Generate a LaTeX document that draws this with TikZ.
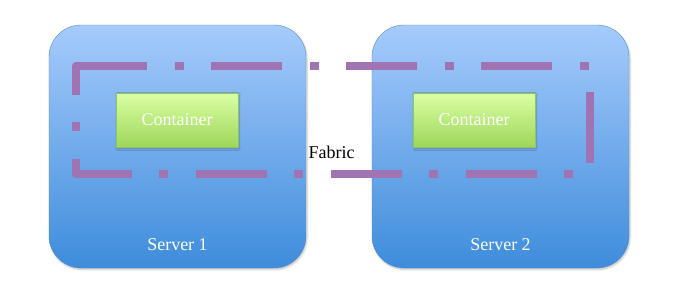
\documentclass[tikz,border=0pt]{standalone}
\usepackage{fontspec}
\setmainfont{Liberation Serif}
\usetikzlibrary{positioning,shadows.blur}
\definecolor{SrvTop}{HTML}{A6CBFC}
\definecolor{SrvBot}{HTML}{3E8CDB}
\definecolor{SrvLine}{HTML}{5A8FCB}
\definecolor{BoxTop}{HTML}{DAFFA4}
\definecolor{BoxBot}{HTML}{9ED65A}
\definecolor{BoxLine}{HTML}{8FC85A}
\definecolor{Fab}{HTML}{A073B2}
\tikzset{
  server/.style={draw=SrvLine,thin,rounded corners=32pt,minimum width=257pt,minimum height=243pt,top color=SrvTop,bottom color=SrvBot,blur shadow={shadow xshift=1pt,shadow yshift=-1.5pt,shadow opacity=25,shadow blur steps=4}},
  container/.style={draw=BoxLine,thin,minimum width=122pt,minimum height=54pt,top color=BoxTop,bottom color=BoxBot,text=white,font=\fontsize{18}{20}\selectfont,blur shadow={shadow xshift=1pt,shadow yshift=-1.5pt,shadow opacity=30,shadow blur steps=3}},
  srvlabel/.style={text=white,font=\fontsize{18}{20}\selectfont},
  fabric/.style={draw=Fab,line width=8pt,dash pattern=on 71pt off 28pt on 9pt off 27pt,line join=round},
  fabcorner/.style={draw=Fab,line width=8pt,line join=round}
}
\begin{document}
\begin{tikzpicture}[x=1pt,y=1pt]
\useasboundingbox (0,0) rectangle (677,290);
% the two servers
\node[server] (srv1) at (177.5,143.5) {};
\node[server] (srv2) at (500.5,143.5) {};
\node[srvlabel,above=24pt of srv1.south,anchor=center] (srv1lbl) {Server 1};
\node[srvlabel,above=24pt of srv2.south,anchor=center] (srv2lbl) {Server 2};
% fabric spanning both
\draw[fabric] (76,224) -- (590,224) -- (590,116) -- (76,116) -- cycle;
\draw[fabcorner] (76,200) -- (76,224) -- (110,224);
\node[font=\fontsize{18}{20}\selectfont] (fab) at (331.5,138) {Fabric};
% containers
\node[container] (ctr1) at (177,170) {Container};
\node[container] (ctr2) at (474,170) {Container};
\end{tikzpicture}
\end{document}
